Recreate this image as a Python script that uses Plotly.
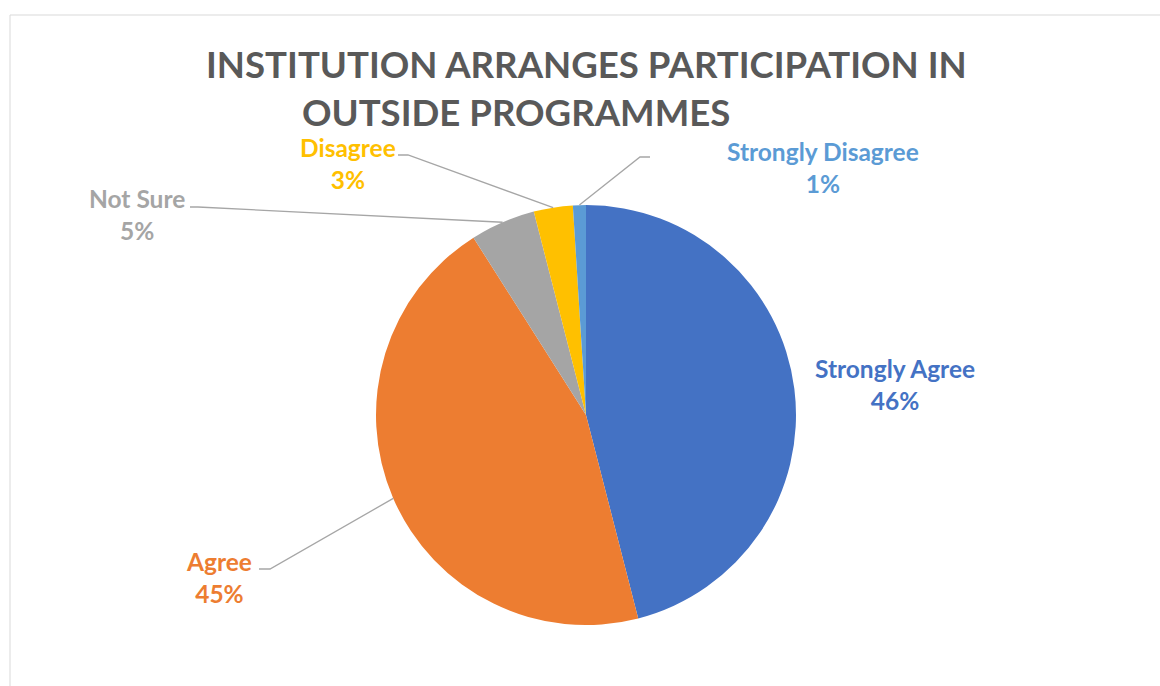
import math
import plotly.graph_objects as go

# ---- data ----
categories = ["Strongly Agree", "Agree", "Not Sure", "Disagree", "Strongly Disagree"]
values = [46, 45, 5, 3, 1]
colors = ["#4472C4", "#ED7D31", "#A5A5A5", "#FFC000", "#5B9BD5"]
title_lines = ["INSTITUTION ARRANGES PARTICIPATION IN", "OUTSIDE PROGRAMMES"]

W, H = 1160, 686
FONT = "Lato"

def px(x):
    return x / W

def py(y):
    return 1 - y / H

# pie geometry (window pixels)
CX, CY, R = 586, 415, 210
dom_x = [px(CX - R), px(CX + R)]
dom_y = [py(CY + R), py(CY - R)]

fig = go.Figure(go.Pie(
    labels=categories,
    values=values,
    marker=dict(colors=colors, line=dict(color="white", width=0)),
    sort=False,
    direction="clockwise",
    rotation=0,
    textinfo="none",
    hoverinfo="label+percent",
    domain=dict(x=dom_x, y=dom_y),
    showlegend=False,
))

# mid-angle edge points of each slice (computed from data)
total = sum(values)
edge = {}
cum = 0
for cat, v in zip(categories, values):
    mid = (cum + v / 2) / total * 2 * math.pi
    edge[cat] = (CX + R * math.sin(mid), CY - R * math.cos(mid))
    cum += v

# label layout: text centre (px), leader elbow points (px)
label_pos = {
    "Strongly Agree": (895, 385),
    "Agree": (219, 577),
    "Not Sure": (137, 214),
    "Disagree": (348, 164),
    "Strongly Disagree": (823, 167),
}
leader = {
    "Agree": [(259, 569), (270, 569)],
    "Not Sure": [(190, 207), (198, 207)],
    "Disagree": [(398, 155), (408, 155)],
    "Strongly Disagree": [(650, 157), (640, 157)],
}

annotations = []
shapes = []
for cat, v, col in zip(categories, values, colors):
    x, y = label_pos[cat]
    annotations.append(dict(
        x=px(x), y=py(y), xref="paper", yref="paper",
        xanchor="center", yanchor="middle",
        text=f"<b>{cat}</b><br><b>{round(v / total * 100)}%</b>",
        showarrow=False, align="center",
        font=dict(family=FONT, size=24.5, color=col),
    ))
    if cat in leader:
        pts = leader[cat] + [edge[cat]]
        path = "M " + " L ".join(f"{px(a):.5f},{py(b):.5f}" for a, b in pts)
        shapes.append(dict(type="path", xref="paper", yref="paper", path=path,
                           line=dict(color="#A6A6A6", width=1.3)))

# title (two lines, as in the reference)
annotations.append(dict(x=px(586), y=py(64), xref="paper", yref="paper",
                        xanchor="center", yanchor="middle",
                        text=f"<b>{title_lines[0]}</b>", showarrow=False,
                        font=dict(family=FONT, size=36.6, color="#595959")))
annotations.append(dict(x=px(516), y=py(112), xref="paper", yref="paper",
                        xanchor="center", yanchor="middle",
                        text=f"<b>{title_lines[1]}</b>", showarrow=False,
                        font=dict(family=FONT, size=36.6, color="#595959")))

# chart area border
shapes.append(dict(type="rect", xref="paper", yref="paper",
                   x0=px(10), y0=py(15), x1=1.05, y1=-0.05,
                   line=dict(color="#D9D9D9", width=1)))

fig.update_layout(
    width=W, height=H,
    margin=dict(l=0, r=0, t=0, b=0),
    paper_bgcolor="white",
    plot_bgcolor="white",
    annotations=annotations,
    shapes=shapes,
)

fig.write_html(
    "out.html",
    config={"displayModeBar": False},
    post_script="document.body.style.margin='0';document.body.style.overflow='hidden';",
)
